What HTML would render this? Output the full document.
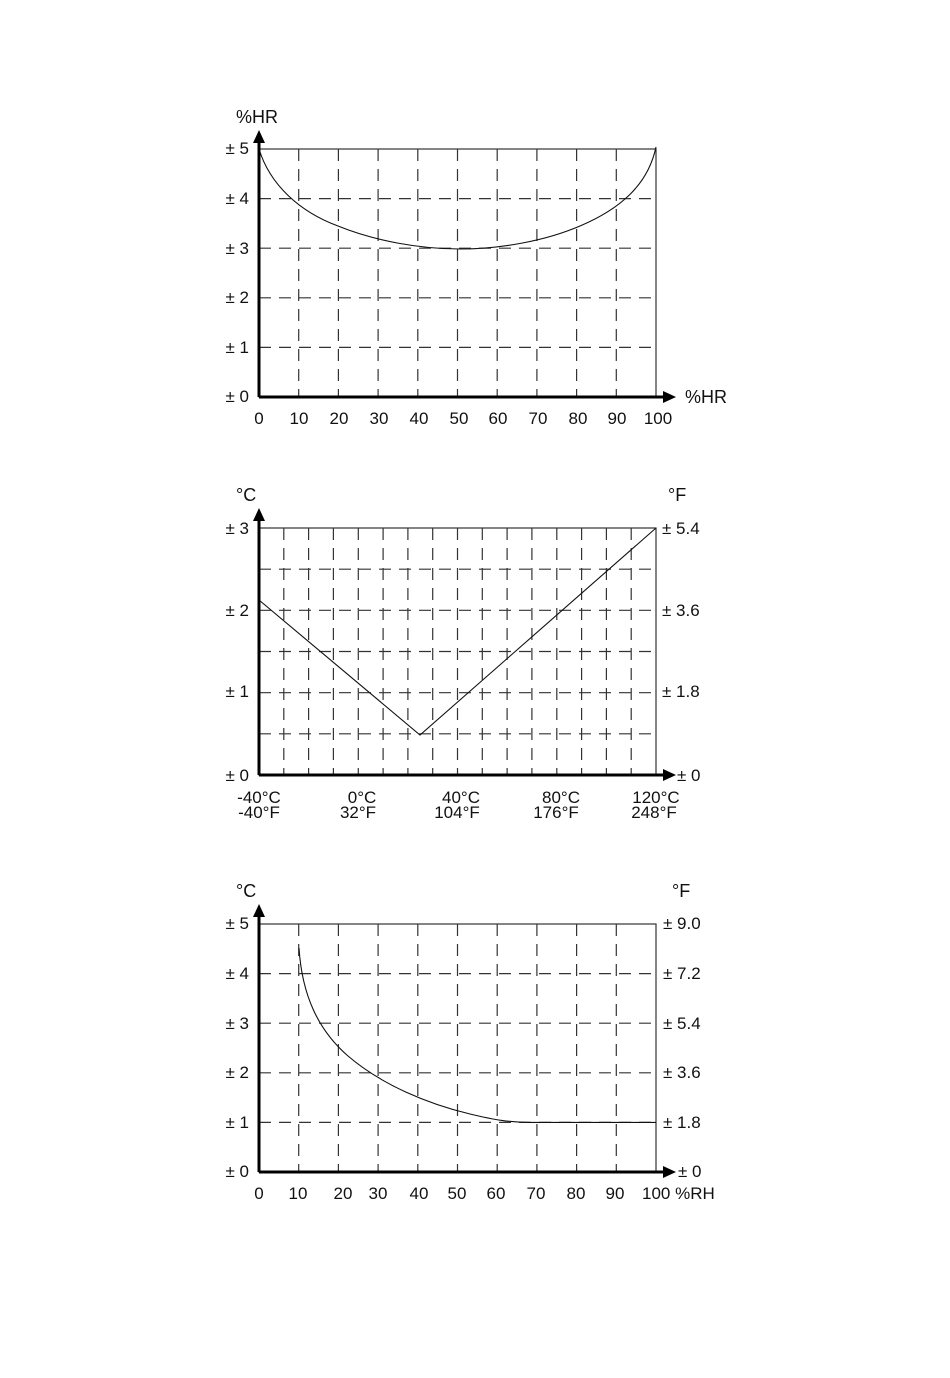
<!DOCTYPE html>
<html><head><meta charset="utf-8"><style>
html,body{margin:0;padding:0;background:#fff;}
svg{display:block;}
text{font-family:"Liberation Sans","DejaVu Sans",sans-serif;font-size:17px;fill:#111;}
.g{stroke:#333;stroke-width:1.2;stroke-dasharray:12 8;fill:none;}
.f{stroke:#333;stroke-width:1.2;fill:none;}
.a{stroke:#000;stroke-width:3;fill:none;}
.c{stroke:#111;stroke-width:1.1;fill:none;}
</style></head><body>
<svg width="950" height="1378" viewBox="0 0 950 1378" xmlns="http://www.w3.org/2000/svg">
<!-- Chart 1 -->
<g>
<rect x="259" y="149" width="397" height="248" class="f"/>
<g class="g">
<line x1="298.7" y1="149" x2="298.7" y2="397"/><line x1="338.4" y1="149" x2="338.4" y2="397"/>
<line x1="378.1" y1="149" x2="378.1" y2="397"/><line x1="417.8" y1="149" x2="417.8" y2="397"/>
<line x1="457.5" y1="149" x2="457.5" y2="397"/><line x1="497.2" y1="149" x2="497.2" y2="397"/>
<line x1="536.9" y1="149" x2="536.9" y2="397"/><line x1="576.6" y1="149" x2="576.6" y2="397"/>
<line x1="616.3" y1="149" x2="616.3" y2="397"/>
<line x1="259" y1="198.6" x2="656" y2="198.6"/><line x1="259" y1="248.2" x2="656" y2="248.2"/>
<line x1="259" y1="297.8" x2="656" y2="297.8"/><line x1="259" y1="347.4" x2="656" y2="347.4"/>
</g>
<path class="c" d="M259,149 C270,185 300,212 338,226 C375,241 420,249 460,249 C500,249 545,241 580,226 C620,209 648,185 656,147"/>
<line class="a" x1="259" y1="397" x2="259" y2="140"/><polygon points="253,143 265,143 259,130"/>
<line class="a" x1="259" y1="397" x2="666" y2="397"/><polygon points="663,391 663,403 676,397"/>
<text x="236" y="123" style="font-size:18px">%HR</text>
<text x="685" y="403" style="font-size:18px">%HR</text>
<g text-anchor="end"><text x="249" y="154">± 5</text><text x="249" y="204">± 4</text><text x="249" y="254">± 3</text><text x="249" y="303">± 2</text><text x="249" y="353">± 1</text><text x="249" y="402">± 0</text></g>
<g text-anchor="middle"><text x="259" y="424">0</text><text x="299" y="424">10</text><text x="339" y="424">20</text><text x="379" y="424">30</text><text x="419" y="424">40</text><text x="459" y="424">50</text><text x="498" y="424">60</text><text x="538" y="424">70</text><text x="578" y="424">80</text><text x="617" y="424">90</text><text x="658" y="424">100</text></g>
</g>
<!-- Chart 2 -->
<g>
<rect x="259" y="528" width="397" height="247" class="f"/>
<g class="g">
<line x1="283.8" y1="528" x2="283.8" y2="775"/><line x1="308.6" y1="528" x2="308.6" y2="775"/><line x1="333.4" y1="528" x2="333.4" y2="775"/><line x1="358.3" y1="528" x2="358.3" y2="775"/><line x1="383.1" y1="528" x2="383.1" y2="775"/><line x1="407.9" y1="528" x2="407.9" y2="775"/><line x1="432.7" y1="528" x2="432.7" y2="775"/><line x1="457.5" y1="528" x2="457.5" y2="775"/><line x1="482.3" y1="528" x2="482.3" y2="775"/><line x1="507.1" y1="528" x2="507.1" y2="775"/><line x1="531.9" y1="528" x2="531.9" y2="775"/><line x1="556.8" y1="528" x2="556.8" y2="775"/><line x1="581.6" y1="528" x2="581.6" y2="775"/><line x1="606.4" y1="528" x2="606.4" y2="775"/><line x1="631.2" y1="528" x2="631.2" y2="775"/>
<line x1="259" y1="569.2" x2="656" y2="569.2"/><line x1="259" y1="610.3" x2="656" y2="610.3"/><line x1="259" y1="651.5" x2="656" y2="651.5"/><line x1="259" y1="692.7" x2="656" y2="692.7"/><line x1="259" y1="733.8" x2="656" y2="733.8"/>
</g>
<polyline class="c" points="259,600 420,735 656,528"/>
<line class="a" x1="259" y1="775" x2="259" y2="518"/><polygon points="253,521 265,521 259,508"/>
<line class="a" x1="259" y1="775" x2="666" y2="775"/><polygon points="663,769 663,781 676,775"/>
<text x="236" y="501" style="font-size:18px">°C</text>
<text x="668" y="501" style="font-size:18px">°F</text>
<g text-anchor="end"><text x="249" y="534">± 3</text><text x="249" y="616">± 2</text><text x="249" y="697">± 1</text><text x="249" y="781">± 0</text></g>
<g><text x="662" y="534">± 5.4</text><text x="662" y="616">± 3.6</text><text x="662" y="697">± 1.8</text><text x="677" y="781">± 0</text></g>
<g text-anchor="middle"><text x="259" y="803">-40°C</text><text x="259" y="818">-40°F</text><text x="362" y="803">0°C</text><text x="358" y="818">32°F</text><text x="461" y="803">40°C</text><text x="457" y="818">104°F</text><text x="561" y="803">80°C</text><text x="556" y="818">176°F</text><text x="656" y="803">120°C</text><text x="654" y="818">248°F</text></g>
</g>
<!-- Chart 3 -->
<g>
<rect x="259" y="924" width="397" height="248" class="f"/>
<g class="g">
<line x1="298.7" y1="924" x2="298.7" y2="1172"/><line x1="338.4" y1="924" x2="338.4" y2="1172"/>
<line x1="378.1" y1="924" x2="378.1" y2="1172"/><line x1="417.8" y1="924" x2="417.8" y2="1172"/>
<line x1="457.5" y1="924" x2="457.5" y2="1172"/><line x1="497.2" y1="924" x2="497.2" y2="1172"/>
<line x1="536.9" y1="924" x2="536.9" y2="1172"/><line x1="576.6" y1="924" x2="576.6" y2="1172"/>
<line x1="616.3" y1="924" x2="616.3" y2="1172"/>
<line x1="259" y1="973.6" x2="656" y2="973.6"/><line x1="259" y1="1023.2" x2="656" y2="1023.2"/>
<line x1="259" y1="1072.8" x2="656" y2="1072.8"/><line x1="259" y1="1122.4" x2="656" y2="1122.4"/>
</g>
<path class="c" d="M299,948 C302,995 318,1030 348,1056 C382,1085 428,1104 470,1114 C495,1120 510,1122.4 530,1122.4 L656,1122.4"/>
<line class="a" x1="259" y1="1172" x2="259" y2="914"/><polygon points="253,917 265,917 259,904"/>
<line class="a" x1="259" y1="1172" x2="666" y2="1172"/><polygon points="663,1166 663,1178 676,1172"/>
<text x="236" y="897" style="font-size:18px">°C</text>
<text x="672" y="897" style="font-size:18px">°F</text>
<g text-anchor="end"><text x="249" y="929">± 5</text><text x="249" y="979">± 4</text><text x="249" y="1029">± 3</text><text x="249" y="1078">± 2</text><text x="249" y="1128">± 1</text><text x="249" y="1177">± 0</text></g>
<g><text x="663" y="929">± 9.0</text><text x="663" y="979">± 7.2</text><text x="663" y="1029">± 5.4</text><text x="663" y="1078">± 3.6</text><text x="663" y="1128">± 1.8</text><text x="678" y="1177">± 0</text></g>
<g text-anchor="middle"><text x="259" y="1199">0</text><text x="298" y="1199">10</text><text x="343" y="1199">20</text><text x="378" y="1199">30</text><text x="419" y="1199">40</text><text x="457" y="1199">50</text><text x="496" y="1199">60</text><text x="536" y="1199">70</text><text x="576" y="1199">80</text><text x="615" y="1199">90</text></g>
<text x="642" y="1199">100 %RH</text>
</g>
</svg>
</body></html>
